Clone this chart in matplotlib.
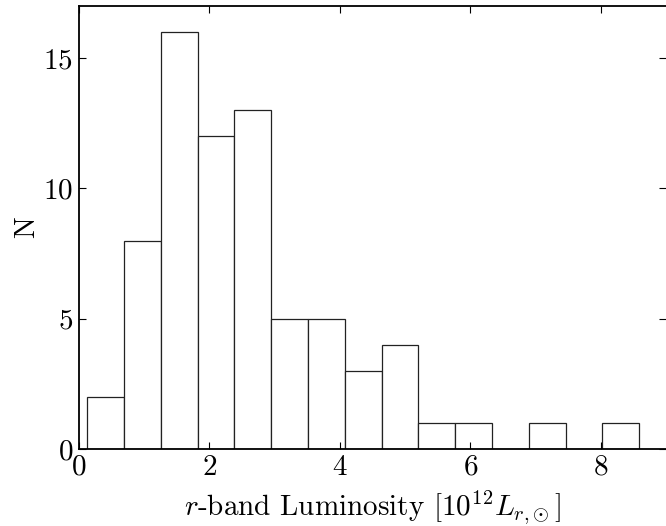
import numpy as np
import matplotlib
matplotlib.use("Agg")
import matplotlib.pyplot as plt

plt.rcParams['font.family'] = 'serif'
plt.rcParams['font.serif'] = ['cmr10']
plt.rcParams['mathtext.fontset'] = 'cm'
plt.rcParams['axes.formatter.use_mathtext'] = True

# Histogram data
lum_min = 0.13
lum_max = 8.585
counts = [2, 8, 16, 12, 13, 5, 5, 3, 4, 1, 1, 0, 1, 0, 1]
xticks = [0, 2, 4, 6, 8]
yticks = [0, 5, 10, 15]

edges = np.linspace(lum_min, lum_max, len(counts) + 1)

fig = plt.figure(figsize=(6.66, 5.26), dpi=100)
ax = fig.add_axes([0.118, 0.1464, 0.8825, 0.8422])
ax.bar(edges[:-1], counts, width=np.diff(edges), align='edge',
       facecolor='white', edgecolor='#222222', linewidth=0.9)
ax.set_xlim(0, 9)
ax.set_ylim(0, 17)
ax.set_xticks(xticks)
ax.set_yticks(yticks)
ax.tick_params(direction='in', top=True, right=True, length=5, width=0.8,
               labelsize=21, pad=4)
for s in ax.spines.values():
    s.set_linewidth(1.3)
ax.spines['right'].set_visible(False)
ax.set_xlabel(r'$r$-band Luminosity $[10^{12}L_{r,\!\odot}]$', fontsize=21, labelpad=5)
ax.set_ylabel('N', fontsize=21, labelpad=2)
fig.savefig('out.png', dpi=100)
